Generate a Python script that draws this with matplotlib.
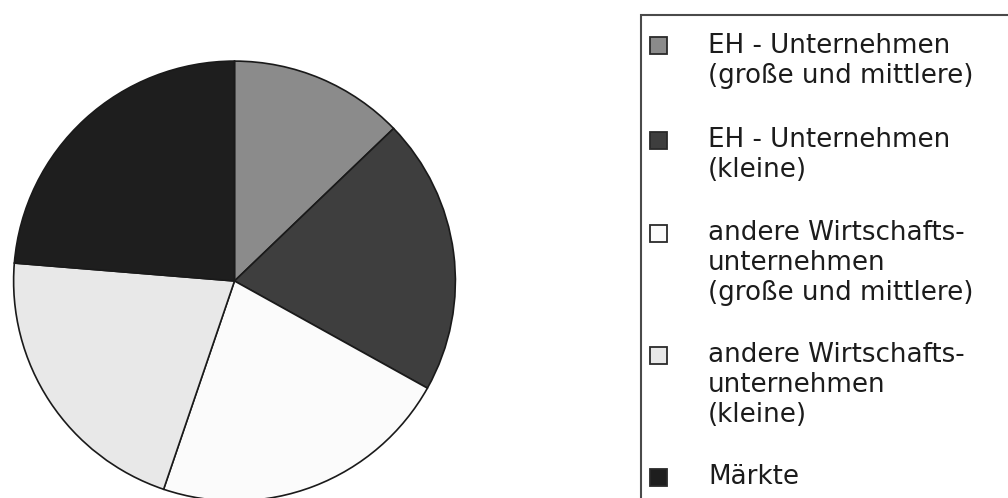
import matplotlib
matplotlib.use("Agg")
import matplotlib.pyplot as plt
from matplotlib.patches import Rectangle

# ---- data ----
categories = [
    "EH - Unternehmen\n(große und mittlere)",
    "EH - Unternehmen\n(kleine)",
    "andere Wirtschafts-\nunternehmen\n(große und mittlere)",
    "andere Wirtschafts-\nunternehmen\n(kleine)",
    "Märkte",
]
shares = [12.8, 20.3, 22.1, 21.1, 23.7]
colors = ["#8b8b8b", "#3e3e3e", "#fbfbfb", "#e8e8e8", "#1e1e1e"]

W, H = 1008, 498
fig = plt.figure(figsize=(W / 100, H / 100), dpi=100)
fig.patch.set_facecolor("white")

# pie axes: centre (234, 281) px, radius ~222 x 221 px
cx, cy, rx, ry = 234.5, 281, 222, 221
ax = fig.add_axes([(cx - rx) / W, (H - cy - ry) / H, 2 * rx / W, 2 * ry / H])
ax.pie(shares, colors=colors, startangle=90, counterclock=False, radius=1.0,
       wedgeprops=dict(edgecolor="#1a1a1a", linewidth=1.2))
ax.set_aspect("auto")
ax.set_xlim(-1.005, 1.005)
ax.set_ylim(-1.005, 1.005)
ax.axis("off")

# legend box
fig.patches.append(Rectangle((641 / W, (H - 520) / H), 400 / W, 505 / H,
                             transform=fig.transFigure, facecolor="none",
                             edgecolor="#4a4a4a", linewidth=1.5, zorder=1))

line_h = 30
first_baselines = [53, 147, 240, 362, 484]
for lab, col, b in zip(categories, colors, first_baselines):
    lines = lab.split("\n")
    # marker square centred on first text line
    mc = b - 7
    fig.patches.append(Rectangle((650 / W, (H - mc - 8.5) / H), 17 / W, 17 / H,
                                 transform=fig.transFigure, facecolor=col,
                                 edgecolor="#2a2a2a", linewidth=1.3, zorder=3))
    for i, ln in enumerate(lines):
        fig.text(708 / W, (H - (b + i * line_h)) / H, ln, fontsize=18.8,
                 family="DejaVu Sans", color="#1c1c1c", va="baseline", ha="left")

fig.savefig("out.png", dpi=100)
